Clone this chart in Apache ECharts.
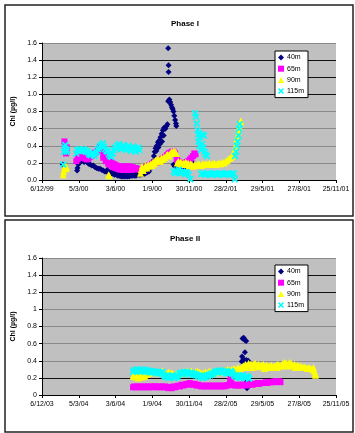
<!DOCTYPE html>
<html>
<head>
<meta charset="utf-8">
<script src="https://cdn.jsdelivr.net/npm/echarts@6/dist/echarts.min.js"></script>
<style>
  html, body { margin: 0; padding: 0; background: #fff; }
  #chart { width: 355px; height: 433px; }
</style>
</head>
<body>
<div id="chart"></div>
<script>
// x values are days since the first tick (6/12/99 and 6/12/03)
const p1Ticks = ['6/12/99', '5/3/00', '3/6/00', '1/9/00', '30/11/00', '28/2/01', '29/5/01', '27/8/01', '25/11/01']
const p2Ticks = ['6/12/03', '5/3/04', '3/6/04', '1/9/04', '30/11/04', '28/2/05', '29/5/05', '27/8/05', '25/11/05']
const seriesNames = ['40m', '65m', '90m', '115m']

const p1Chl40 = [[51,0.18],[86,0.11],[87,0.14],[89,0.18],[91,0.21],[94,0.23],[97,0.22],[100,0.23],[103,0.21],[106,0.22],[110,0.21],[114,0.19],[118,0.18],[122,0.17],[126,0.17],[130,0.15],[134,0.14],[138,0.13],[142,0.13],[146,0.12],[150,0.11],[154,0.10],[158,0.10],[162,0.09],[166,0.08],[170,0.08],[174,0.07],[178,0.06],[182,0.06],[186,0.05],[190,0.05],[194,0.04],[198,0.04],[202,0.04],[206,0.04],[210,0.04],[214,0.04],[218,0.05],[222,0.05],[226,0.05],[230,0.05],[234,0.06],[238,0.06],[242,0.06],[246,0.07],[250,0.07],[254,0.08],[258,0.09],[262,0.10],[265,0.13],[268,0.17],[271,0.22],[274,0.28],[276,0.33],[278,0.37],[281,0.40],[284,0.44],[287,0.46],[290,0.50],[293,0.54],[296,0.58],[299,0.61],[302,0.60],[305,0.63],[307,0.65],[309,0.92],[309,1.54],[310,1.34],[310,1.26],[312,0.94],[314,0.91],[316,0.88],[318,0.85],[320,0.83],[322,0.80],[324,0.75],[326,0.70],[328,0.66],[329,0.63],[280,0.34],[285,0.38],[289,0.42],[294,0.45],[298,0.52],[322,0.18],[325,0.16],[328,0.14],[332,0.15],[336,0.13],[340,0.14],[344,0.13],[348,0.15],[352,0.16],[356,0.17],[360,0.20],[364,0.22],[368,0.21],[160,0.12],[170,0.10],[180,0.08],[190,0.07],[200,0.07],[210,0.06],[220,0.07],[230,0.08],[240,0.08],[250,0.10]]
const p1Chl65 = [[55,0.45],[56,0.42],[57,0.38],[58,0.34],[59,0.31],[60,0.33],[61,0.38],[84,0.22],[87,0.24],[90,0.26],[94,0.27],[98,0.26],[102,0.27],[106,0.25],[110,0.24],[114,0.25],[118,0.27],[122,0.29],[126,0.30],[130,0.32],[134,0.33],[138,0.36],[142,0.39],[145,0.38],[148,0.34],[151,0.30],[154,0.27],[158,0.25],[162,0.23],[166,0.21],[170,0.20],[174,0.19],[178,0.18],[182,0.17],[186,0.16],[190,0.16],[194,0.16],[198,0.15],[202,0.15],[206,0.16],[210,0.15],[214,0.16],[218,0.15],[222,0.15],[226,0.14],[230,0.14],[234,0.13],[238,0.12],[242,0.12],[246,0.13],[250,0.14],[254,0.15],[258,0.16],[262,0.17],[266,0.18],[270,0.19],[274,0.20],[278,0.21],[282,0.20],[286,0.22],[290,0.24],[294,0.24],[298,0.26],[302,0.27],[306,0.29],[310,0.31],[314,0.32],[318,0.33],[322,0.33],[326,0.31],[330,0.24],[334,0.22],[338,0.20],[342,0.19],[346,0.19],[350,0.20],[354,0.21],[358,0.22],[362,0.24],[366,0.26],[370,0.28],[373,0.31],[376,0.30],[150,0.26],[156,0.22],[162,0.19],[168,0.17],[174,0.15],[180,0.14],[186,0.13],[192,0.12],[198,0.12],[204,0.12],[210,0.12],[216,0.12],[222,0.12]]
const p1Chl90 = [[52,0.06],[53,0.10],[55,0.14],[57,0.16],[59,0.13],[60,0.15],[163,0.06],[165,0.05],[241,0.08],[243,0.12],[245,0.16],[248,0.11],[251,0.14],[254,0.17],[257,0.14],[260,0.18],[263,0.16],[266,0.19],[269,0.17],[272,0.21],[275,0.19],[278,0.23],[281,0.21],[284,0.25],[287,0.23],[290,0.22],[293,0.26],[296,0.24],[299,0.27],[302,0.26],[305,0.29],[308,0.30],[311,0.28],[314,0.31],[317,0.33],[320,0.32],[323,0.34],[326,0.33],[329,0.31],[331,0.20],[334,0.22],[337,0.19],[340,0.21],[343,0.18],[346,0.20],[349,0.19],[352,0.21],[355,0.18],[358,0.20],[361,0.17],[364,0.19],[367,0.18],[370,0.16],[374,0.18],[378,0.17],[382,0.19],[386,0.18],[390,0.17],[394,0.19],[398,0.18],[402,0.19],[406,0.18],[410,0.20],[414,0.18],[418,0.19],[422,0.20],[426,0.18],[430,0.19],[434,0.20],[438,0.19],[442,0.21],[446,0.20],[450,0.22],[454,0.23],[458,0.25],[462,0.26],[466,0.28],[469,0.31],[472,0.36],[475,0.41],[477,0.47],[479,0.52],[481,0.57],[483,0.62],[485,0.66],[487,0.69]]
const p1Chl115 = [[52,0.18],[54,0.33],[55,0.38],[57,0.41],[58,0.36],[60,0.33],[61,0.35],[84,0.31],[86,0.35],[89,0.34],[92,0.36],[95,0.35],[98,0.34],[101,0.36],[104,0.35],[107,0.33],[110,0.34],[113,0.32],[116,0.30],[119,0.29],[122,0.31],[125,0.30],[128,0.28],[131,0.31],[134,0.33],[137,0.36],[140,0.38],[143,0.40],[146,0.41],[149,0.43],[152,0.39],[155,0.36],[158,0.34],[161,0.33],[164,0.30],[167,0.28],[170,0.27],[173,0.31],[176,0.35],[179,0.38],[182,0.37],[185,0.40],[188,0.42],[191,0.38],[194,0.36],[197,0.39],[200,0.41],[203,0.37],[206,0.35],[209,0.38],[212,0.40],[215,0.36],[218,0.34],[221,0.37],[224,0.39],[227,0.36],[230,0.33],[233,0.37],[236,0.38],[239,0.35],[323,0.10],[326,0.08],[329,0.11],[332,0.09],[335,0.12],[338,0.10],[341,0.08],[344,0.10],[347,0.09],[350,0.07],[353,0.09],[356,0.08],[359,0.06],[363,0.01],[375,0.78],[377,0.74],[379,0.66],[381,0.58],[383,0.53],[385,0.55],[387,0.50],[383,0.45],[386,0.40],[389,0.35],[392,0.42],[392,0.53],[395,0.38],[397,0.52],[398,0.33],[401,0.30],[404,0.28],[390,0.07],[394,0.08],[398,0.06],[402,0.07],[406,0.08],[410,0.07],[414,0.06],[418,0.07],[422,0.08],[426,0.07],[430,0.06],[434,0.07],[438,0.08],[442,0.07],[446,0.06],[450,0.07],[454,0.08],[458,0.07],[462,0.06],[466,0.07],[470,0.08],[472,0.01],[473,0.28],[475,0.33],[477,0.40],[479,0.45],[481,0.52],[483,0.60],[484,0.65]]

const p2Chl40 = [[491,0.66],[494,0.67],[497,0.64],[500,0.63],[497,0.50],[490,0.45],[489,0.39],[493,0.42],[496,0.40],[500,0.41],[503,0.39],[505,0.40],[503,0.16],[502,0.08],[499,0.14]]
const p2Chl65 = [[223,0.09],[226,0.10],[230,0.09],[234,0.10],[238,0.09],[242,0.10],[246,0.09],[250,0.10],[254,0.09],[258,0.10],[262,0.09],[266,0.10],[270,0.09],[274,0.10],[278,0.10],[282,0.09],[286,0.10],[290,0.09],[294,0.10],[298,0.09],[302,0.10],[306,0.09],[310,0.08],[314,0.09],[318,0.08],[322,0.10],[326,0.09],[330,0.10],[334,0.11],[338,0.10],[342,0.12],[346,0.11],[350,0.12],[354,0.13],[358,0.12],[362,0.14],[366,0.13],[370,0.12],[374,0.13],[378,0.11],[382,0.12],[386,0.11],[390,0.10],[394,0.11],[398,0.10],[402,0.11],[406,0.10],[410,0.11],[414,0.10],[418,0.11],[422,0.10],[426,0.11],[430,0.10],[434,0.11],[438,0.10],[442,0.11],[446,0.10],[450,0.11],[454,0.11],[458,0.12],[461,0.16],[462,0.19],[464,0.13],[468,0.12],[472,0.11],[476,0.12],[480,0.11],[484,0.12],[488,0.11],[492,0.12],[496,0.12],[500,0.11],[504,0.12],[508,0.12],[512,0.13],[516,0.12],[520,0.13],[524,0.13],[528,0.14],[532,0.13],[536,0.14],[540,0.14],[544,0.14],[548,0.15],[552,0.14],[556,0.15],[560,0.15],[564,0.15],[568,0.16],[572,0.15],[576,0.16],[580,0.16],[584,0.15]]
const p2Chl90 = [[223,0.22],[226,0.24],[229,0.21],[232,0.23],[236,0.20],[240,0.22],[244,0.21],[248,0.23],[252,0.22],[256,0.24],[260,0.25],[265,0.27],[270,0.26],[275,0.28],[280,0.27],[285,0.26],[290,0.27],[295,0.28],[300,0.26],[305,0.25],[310,0.27],[315,0.26],[320,0.25],[325,0.24],[330,0.25],[335,0.24],[340,0.25],[345,0.27],[350,0.26],[355,0.28],[360,0.27],[365,0.28],[370,0.26],[375,0.27],[380,0.28],[385,0.27],[390,0.26],[395,0.25],[400,0.27],[405,0.26],[410,0.28],[415,0.27],[420,0.28],[425,0.26],[430,0.28],[435,0.29],[440,0.27],[445,0.28],[450,0.29],[455,0.30],[460,0.29],[465,0.30],[470,0.31],[475,0.30],[480,0.32],[485,0.31],[490,0.33],[494,0.34],[498,0.36],[502,0.35],[506,0.37],[510,0.36],[514,0.35],[518,0.36],[522,0.37],[526,0.35],[530,0.36],[534,0.34],[538,0.35],[542,0.36],[546,0.34],[550,0.35],[554,0.33],[558,0.34],[562,0.35],[566,0.33],[570,0.34],[574,0.35],[578,0.36],[582,0.34],[586,0.35],[590,0.37],[594,0.38],[598,0.37],[602,0.36],[606,0.38],[610,0.37],[614,0.35],[618,0.36],[622,0.34],[626,0.35],[630,0.33],[634,0.34],[638,0.32],[642,0.33],[646,0.32],[650,0.31],[654,0.32],[658,0.31],[662,0.30],[665,0.32],[667,0.28],[669,0.25],[670,0.23],[500,0.32],[515,0.32],[530,0.33],[545,0.31],[560,0.32],[575,0.32],[590,0.34],[605,0.34],[620,0.32]]
const p2Chl115 = [[223,0.27],[226,0.29],[229,0.28],[232,0.30],[235,0.28],[238,0.29],[241,0.27],[244,0.29],[247,0.28],[250,0.30],[253,0.28],[256,0.29],[259,0.27],[262,0.28],[265,0.26],[268,0.28],[271,0.27],[274,0.28],[277,0.26],[280,0.27],[283,0.25],[286,0.27],[289,0.26],[292,0.25],[295,0.27],[298,0.24],[301,0.22],[304,0.21],[307,0.23],[310,0.20],[313,0.22],[316,0.21],[319,0.23],[322,0.21],[325,0.20],[328,0.22],[331,0.21],[334,0.23],[337,0.25],[340,0.26],[343,0.24],[346,0.26],[349,0.27],[352,0.25],[355,0.27],[358,0.26],[361,0.24],[364,0.25],[367,0.26],[370,0.24],[373,0.25],[376,0.23],[379,0.24],[382,0.22],[385,0.23],[388,0.21],[391,0.22],[394,0.20],[397,0.22],[400,0.21],[403,0.23],[406,0.22],[409,0.24],[412,0.23],[415,0.25],[418,0.24],[421,0.26],[424,0.27],[427,0.28],[430,0.26],[433,0.28],[436,0.27],[439,0.29],[442,0.27],[445,0.28],[448,0.26],[451,0.27],[454,0.25],[457,0.27],[460,0.26],[463,0.28],[466,0.26],[469,0.24],[472,0.22],[475,0.23],[478,0.21],[481,0.22],[484,0.20],[487,0.22],[490,0.21],[493,0.23],[496,0.21],[499,0.20],[502,0.22],[505,0.21],[507,0.19]]

const FONT = 'Arial, "Liberation Sans", sans-serif'
const GREY_LINE = '#8a8a8a'
const DARK_LINE = '#111'
const COLORS = ['#000080', '#ff00ff', '#ffff00', '#00ffff']
const X_PATH = 'path://M0,1.8L1.8,0L5,3.2L8.2,0L10,1.8L6.8,5L10,8.2L8.2,10L5,6.8L1.8,10L0,8.2L3.2,5Z'
const SYMBOLS = ['diamond', 'rect', 'triangle', X_PATH]
const SIZES = [6, 6, 7, 7]

function xAxisFor(idx, ticks) {
  return {
    type: 'value', gridIndex: idx, min: 0, max: 720, interval: 90,
    axisLine: { lineStyle: { color: '#000', width: 1 } },
    axisTick: { length: 3, lineStyle: { color: '#000' } },
    axisLabel: { fontFamily: FONT, fontSize: 7, color: '#000', margin: 6, showMaxLabel: true,
      formatter: (v) => ticks[Math.round(v / 90)] },
    splitLine: { show: false },
  }
}

function yAxisFor(idx, gridColors, fmt) {
  return {
    type: 'value', gridIndex: idx, min: 0, max: 1.6, interval: 0.2,
    name: 'Chl (µg/l)', nameLocation: 'middle', nameGap: 23, nameRotate: 90,
    nameTextStyle: { fontFamily: FONT, fontSize: 7, fontWeight: 'bold', color: '#000' },
    axisLine: { show: true, lineStyle: { color: '#000', width: 1 } },
    axisTick: { show: true, length: 3, lineStyle: { color: '#000' } },
    axisLabel: { fontFamily: FONT, fontSize: 7, color: '#000', margin: 5, formatter: fmt },
    splitLine: { lineStyle: { color: gridColors, width: 1 } },
  }
}

function legendFor(top) {
  return {
    data: seriesNames, orient: 'vertical', left: 275, top,
    width: 32, padding: [3, 4, 3, 3], itemGap: 4.2, itemWidth: 6, itemHeight: 6,
    backgroundColor: '#fff', borderColor: '#000', borderWidth: 1, borderRadius: 0,
    textStyle: { fontFamily: FONT, fontSize: 7, color: '#000', padding: [0, 0, 0, -2] },
  }
}

function scatter(name, i, gridIdx, data) {
  return {
    name, type: 'scatter', xAxisIndex: gridIdx, yAxisIndex: gridIdx, data,
    symbol: SYMBOLS[i], symbolSize: SIZES[i],
    itemStyle: { color: COLORS[i], opacity: 1 },
    emphasis: { disabled: true },
  }
}

const p1Grid = [DARK_LINE, GREY_LINE, GREY_LINE, GREY_LINE, GREY_LINE, DARK_LINE, DARK_LINE, DARK_LINE, GREY_LINE]
const p2Grid = [DARK_LINE, DARK_LINE, GREY_LINE, GREY_LINE, GREY_LINE, GREY_LINE, DARK_LINE, DARK_LINE, GREY_LINE]

const chart = echarts.init(document.getElementById('chart'), null, { renderer: 'canvas' })
chart.setOption({
  animation: false,
  backgroundColor: '#fff',
  title: [
    { text: 'Phase I', left: 180, top: 15, textAlign: 'center',
      textStyle: { fontFamily: FONT, fontSize: 8, fontWeight: 'bold', color: '#000' } },
    { text: 'Phase II', left: 180, top: 230, textAlign: 'center',
      textStyle: { fontFamily: FONT, fontSize: 8, fontWeight: 'bold', color: '#000' } },
  ],
  grid: [
    { left: 42, top: 43, width: 294, height: 137, show: true, backgroundColor: '#c0c0c0', borderWidth: 0 },
    { left: 42, top: 258, width: 294, height: 137, show: true, backgroundColor: '#c0c0c0', borderWidth: 0 },
  ],
  xAxis: [xAxisFor(0, p1Ticks), xAxisFor(1, p2Ticks)],
  yAxis: [
    yAxisFor(0, p1Grid, (v) => v.toFixed(1)),
    yAxisFor(1, p2Grid, (v) => String(Math.round(v * 10) / 10)),
  ],
  legend: [legendFor(51), legendFor(265)],
  graphic: [
    { type: 'rect', shape: { x: 5, y: 5, width: 348, height: 211 }, style: { fill: 'none', stroke: '#222', lineWidth: 1.5 }, silent: true },
    { type: 'rect', shape: { x: 5, y: 220, width: 348, height: 212 }, style: { fill: 'none', stroke: '#222', lineWidth: 1.5 }, silent: true },
  ],
  series: [
    scatter('40m', 0, 0, p1Chl40),
    scatter('65m', 1, 0, p1Chl65),
    scatter('90m', 2, 0, p1Chl90),
    scatter('115m', 3, 0, p1Chl115),
    scatter('40m', 0, 1, p2Chl40),
    scatter('65m', 1, 1, p2Chl65),
    scatter('90m', 2, 1, p2Chl90),
    scatter('115m', 3, 1, p2Chl115),
  ],
})
</script>
</body>
</html>
